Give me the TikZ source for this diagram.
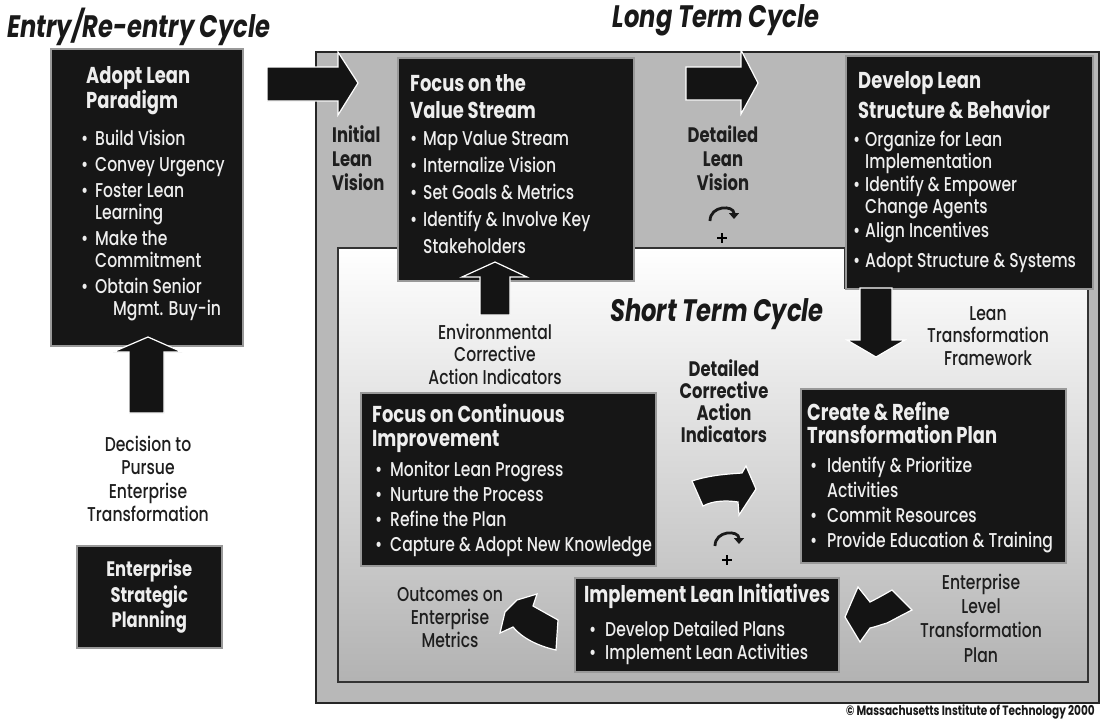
\documentclass[tikz,border=0pt]{standalone}
\usepackage{fontspec}
\setmainfont{Poppins}[FakeStretch=0.78, UprightFont={* Medium}, BoldFont={* Bold}, ItalicFont={* Medium Italic}, BoldItalicFont={* Bold Italic}]
\usetikzlibrary{arrows.meta,calc}
\definecolor{boxfill}{HTML}{161616}
\definecolor{boxtext}{HTML}{EEEEEE}
\definecolor{framegray}{HTML}{B8B8B8}
\definecolor{labeltext}{HTML}{1E1E1E}
\newcommand\hd[1]{{\bfseries\fontsize{23}{22}\selectfont #1}}
\newcommand\bulw[1]{\makebox[#1][l]{\textbullet}}
\begin{document}
\begin{tikzpicture}[x=1pt,y=-1pt,
  darkbox/.style={draw=black!40, line width=1.5pt, fill=boxfill, inner sep=0pt, anchor=north west},
  boxtxt/.style={text=boxtext, align=left, anchor=north west, inner sep=0pt},
  lbl/.style={text=labeltext, align=center, inner sep=0pt},
  blk/.style={fill=black!92, draw=white, line width=1.2pt, line join=miter},
  circarrow/.style={draw=black!90, line width=2.8pt, -{Triangle[length=6pt,width=10pt]}},
  ttl/.style={text=black!90, inner sep=0pt, font=\bfseries\itshape\fontsize{31}{32}\selectfont},
]
\useasboundingbox (0,0) rectangle (1103,721);
\fill[white] (0,0) rectangle (1103,721);

% ---------- frame ----------
\path[fill=framegray, draw=black!85, line width=2pt] (316,52) rectangle (1099,703);
\path[top color=white, middle color=black!13, bottom color=black!30, draw=black!80, line width=1.5pt]
  (338,248) -- (845,248) -- (845,288) -- (1088,288) -- (1088,682) -- (338,682) -- cycle;

% ---------- titles ----------
\node[ttl, anchor=west] (t1) at (7,27) {Entry/Re-entry Cycle};
\node[ttl] (t2) at (716,20) {Long Term Cycle};
\node[ttl] (t3) at (717,314) {Short Term Cycle};

% ---------- boxes ----------
\node[darkbox, minimum width=192pt, minimum height=297pt] (adopt) at (50,48) {};
\node[darkbox, minimum width=236pt, minimum height=223pt] (focus) at (397,57) {};
\node[darkbox, minimum width=247pt, minimum height=233pt] (develop) at (845,55) {};
\node[darkbox, minimum width=295pt, minimum height=173pt] (contimp) at (360,392) {};
\node[darkbox, minimum width=265pt, minimum height=174pt] (create) at (800,388) {};
\node[darkbox, minimum width=264pt, minimum height=94pt] (implement) at (574,577) {};
\node[darkbox, minimum width=145pt, minimum height=102pt] (strategic) at (76,545) {};

% ---------- box texts ----------
\node[boxtxt, font=\fontsize{20}{22}\selectfont] (adopttxt) at ($(adopt.north west)+(31,18)$) {%
\hspace*{5pt}\hd{Adopt Lean}\\
\hspace*{5pt}\hd{Paradigm}\\[15pt]
\bulw{14pt}Build Vision\\[4pt]
\bulw{14pt}Convey Urgency\\[4pt]
\bulw{14pt}Foster Lean\\
\hspace*{14pt}Learning\\[4pt]
\bulw{14pt}Make the\\
\hspace*{14pt}Commitment\\[4pt]
\bulw{14pt}Obtain Senior\\
\hspace*{32pt}Mgmt. Buy-in};

\node[boxtxt, font=\fontsize{20}{27}\selectfont] (focustxt) at ($(focus.north west)+(13,17)$) {%
\hd{Focus on the}\\
\hd{Value Stream}\\
\bulw{13pt}Map Value Stream\\
\bulw{13pt}Internalize Vision\\
\bulw{13pt}Set Goals \& Metrics\\
\bulw{13pt}Identify \& Involve Key\\
\hspace*{13pt}Stakeholders};

\node[boxtxt, font=\fontsize{20}{22}\selectfont] (developtxt) at ($(develop.north west)+(8,16)$) {%
\hspace*{5pt}\hd{Develop Lean}\\[5pt]
\hspace*{5pt}\hd{Structure \& Behavior}\\[6pt]
\bulw{12pt}Organize for Lean\\
\hspace*{12pt}Implementation\\[1pt]
\bulw{12pt}Identify \& Empower\\
\hspace*{12pt}Change Agents\\[2pt]
\bulw{12pt}Align Incentives\\[8pt]
\bulw{12pt}Adopt Structure \& Systems};

\node[boxtxt, font=\fontsize{20}{25}\selectfont] (contimptxt) at ($(contimp.north west)+(12,12)$) {%
\hd{Focus on Continuous}\\[-1pt]
\hd{Improvement}\\[5pt]
\hspace*{3pt}\bulw{15pt}Monitor Lean Progress\\
\hspace*{3pt}\bulw{15pt}Nurture the Process\\
\hspace*{3pt}\bulw{15pt}Refine the Plan\\
\hspace*{3pt}\bulw{15pt}Capture \& Adopt New Knowledge};

\node[boxtxt, font=\fontsize{20}{25}\selectfont] (createtxt) at ($(create.north west)+(7,14)$) {%
\hd{Create \& Refine}\\[-2pt]
\hd{Transformation Plan}\\[4pt]
\hspace*{3pt}\bulw{17pt}Identify \& Prioritize\\
\hspace*{20pt}Activities\\
\hspace*{3pt}\bulw{17pt}Commit Resources\\
\hspace*{3pt}\bulw{17pt}Provide Education \& Training};

\node[boxtxt, font=\fontsize{20}{23}\selectfont] (implementtxt) at ($(implement.north west)+(10,7)$) {%
\hd{Implement Lean Initiatives}\\[11pt]
\hspace*{5pt}\bulw{16pt}Develop Detailed Plans\\
\hspace*{5pt}\bulw{16pt}Implement Lean Activities};

\node[text=boxtext, align=center, inner sep=0pt, font=\bfseries\fontsize{21}{25.5}\selectfont] (strategictxt) at (strategic.center) {Enterprise\\Strategic\\Planning};

% ---------- labels ----------
\node[lbl, align=left, anchor=north west, font=\bfseries\fontsize{21}{24}\selectfont] (initial) at (332,125) {Initial\\Lean\\Vision};
\node[lbl, font=\bfseries\fontsize{21}{24}\selectfont] (detlean) at (723,158) {Detailed\\Lean\\Vision};
\node[lbl, font=\fontsize{20}{22.5}\selectfont] (environ) at (495,354) {Environmental\\Corrective\\Action Indicators};
\node[lbl, font=\fontsize{20}{22.5}\selectfont] (ltf) at (988,336) {Lean\\Transformation\\Framework};
\node[lbl, font=\bfseries\fontsize{21}{22}\selectfont] (detcorr) at (724,401) {Detailed\\Corrective\\Action\\Indicators};
\node[lbl, font=\fontsize{20}{23}\selectfont] (outcomes) at (450,618) {Outcomes on\\Enterprise\\Metrics};
\node[lbl, font=\fontsize{20}{24.3}\selectfont] (entlevel) at (981,618) {Enterprise\\Level\\Transformation\\Plan};
\node[lbl, font=\fontsize{20}{23.5}\selectfont] (decision) at (148,479) {Decision to\\Pursue\\Enterprise\\Transformation};
\node[text=black!90, anchor=east, inner sep=0pt, font=\bfseries\fontsize{13.5}{14}\selectfont] (copy) at (1095,712) {© Massachusetts Institute of Technology 2000};

% ---------- straight block arrows ----------
\path[blk] (267,67) -- (338,67) -- (338,52) -- (358,83) -- (338,115) -- (338,101) -- (267,101) -- cycle;
\path[blk] (686,67) -- (741,67) -- (741,50) -- (758,83) -- (741,114) -- (741,100) -- (686,100) -- cycle;
\path[blk] (480,315) -- (480,277) -- (462,277) -- (495,262) -- (527,277) -- (510,277) -- (510,315) -- cycle;
\path[blk] (129,413) -- (129,352) -- (113,352) -- (148,337) -- (182,352) -- (164,352) -- (164,413) -- cycle;
\path[blk] (860,288) -- (892,288) -- (892,340) -- (905,340) -- (876,357) -- (847,340) -- (860,340) -- cycle;

% ---------- curved block arrows ----------
\path[blk] (692,481) .. controls (710,475) and (728,474) .. (742,473) -- (746,466) -- (756,489) -- (739,515)
  -- (738,502) .. controls (725,500) and (712,501) .. (703,506) -- cycle;
\path[blk] (558,620) -- (556,650) .. controls (538,646) and (522,638) .. (513,627) -- (500,633) -- (505,612)
  -- (517,600) -- (537,594) -- (533,606) -- cycle;
\path[blk] (845,617) -- (858,587) -- (870,602) .. controls (878,598) and (885,594) .. (892,590) -- (912,610)
  .. controls (900,616) and (893,620) .. (887,623) .. controls (880,625) and (875,627) .. (870,628) -- (860,642) -- cycle;

% ---------- small cycle marks ----------
\draw[circarrow] (710,221) .. controls (710,205) and (734,205) .. (734,219);
\draw[line width=1.8pt] (717,238) -- (727,238) (722,233) -- (722,243);
\draw[circarrow] (715,546) .. controls (715,530) and (739,530) .. (739,544);
\draw[line width=1.8pt] (722,560) -- (732,560) (727,555) -- (727,565);
\end{tikzpicture}
\end{document}
